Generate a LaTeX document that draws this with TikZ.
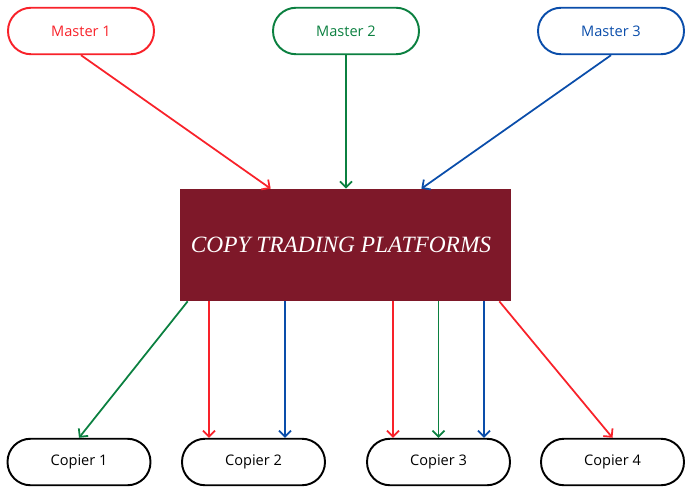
\documentclass[tikz,border=0pt]{standalone}
\usepackage{fontspec}
\setmainfont{Liberation Serif}
\newfontfamily\labelfont{Open Sans}
\usetikzlibrary{arrows.meta}
\definecolor{mred}{HTML}{F8222A}
\definecolor{mgreen}{HTML}{0B8040}
\definecolor{mblue}{HTML}{0A4DAA}
\definecolor{maroon}{HTML}{7E1829}
\tikzset{pill/.style={rectangle,rounded corners=0.46cm,draw,line width=1.1pt,minimum width=2.92cm,minimum height=0.93cm,font=\labelfont\fontsize{8.3}{10}\selectfont}}
\tikzset{arr/.style={line width=1pt,-{Straight Barb[length=1.2mm,width=2.4mm]}}}

\begin{document}
\begin{tikzpicture}[x=0.02cm,y=-0.02cm]
\useasboundingbox (0,0) rectangle (692,493);
% masters
\node[pill,mred,text=mred] (m1) at (81,31) {Master 1};
\node[pill,mgreen,text=mgreen] (m2) at (346,31) {Master 2};
\node[pill,mblue,text=mblue] (m3) at (611,31) {Master 3};
% platform
\node[fill=maroon,minimum width=6.62cm,minimum height=2.24cm,inner sep=0] (box) at (345.5,245) {};
\node[text=white,font=\itshape\fontsize{13.3}{16}\selectfont] (title) at (341,245) {COPY TRADING PLATFORMS};
% copiers
\node[pill,minimum width=2.86cm] (c1) at (79,462) {Copier 1};
\node[pill,minimum width=2.86cm] (c2) at (253.5,462) {Copier 2};
\node[pill,minimum width=2.86cm] (c3) at (438.5,462) {Copier 3};
\node[pill,minimum width=2.86cm] (c4) at (612.5,462) {Copier 4};
% in
\draw[arr,mred] (m1.south) -- ([xshift=1.82cm]box.north west);
\draw[arr,mgreen] (m2.south) -- (m2.south |- box.north);
\draw[arr,mblue] (m3.south) -- ([xshift=-1.8cm]box.north east);
% out
\draw[arr,mgreen] ([xshift=0.16cm]box.south west) -- (c1.north);
\draw[arr,mred] ([xshift=-0.89cm]c2.north |- box.south) -- ([xshift=-0.89cm]c2.north);
\draw[arr,mblue] ([xshift=0.63cm]c2.north |- box.south) -- ([xshift=0.63cm]c2.north);
\draw[arr,mred] ([xshift=-0.91cm]c3.north |- box.south) -- ([xshift=-0.91cm]c3.north);
\draw[arr,mgreen] (c3.north |- box.south) -- (c3.north);
\draw[arr,mblue] ([xshift=0.91cm]c3.north |- box.south) -- ([xshift=0.91cm]c3.north);
\draw[arr,mred] ([xshift=-0.24cm]box.south east) -- (c4.north);
\end{tikzpicture}
\end{document}
